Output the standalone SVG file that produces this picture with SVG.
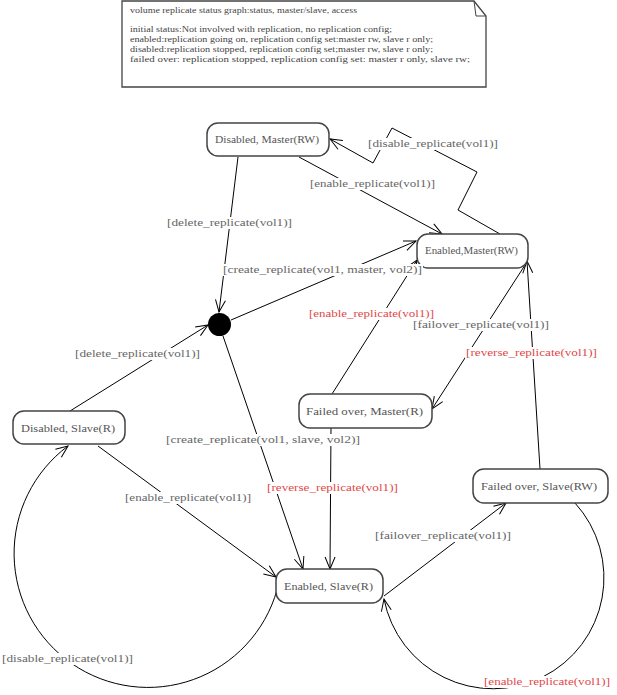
<svg xmlns="http://www.w3.org/2000/svg" width="617" height="695" viewBox="0 0 617 695">
<style>
.node rect{fill:#fff;stroke:#444;stroke-width:1.5}
.node text{font-family:"Liberation Serif",serif;font-size:10.5px;fill:#555;lengthAdjust:spacingAndGlyphs}
.edge{fill:none;stroke:#000;stroke-width:1;marker-end:url(#arr)}
.lbl rect{fill:#fff}
.lbl text{font-family:"Liberation Serif",serif;font-size:10.5px;fill:#666}
.lbl .red{fill:#e04848}
.note text{font-family:"Liberation Serif",serif;font-size:8px;fill:#444}
</style>
<defs>
<marker id="arr" markerWidth="14" markerHeight="12" refX="13" refY="6" orient="auto" markerUnits="userSpaceOnUse" overflow="visible">
<path d="M1,1 L13,6 L1,11" fill="none" stroke="#000" stroke-width="1"/>
</marker>
</defs>
<rect width="617" height="695" fill="#fff"/>

<g id="note" class="note">
<path d="M122,1 H474 L486,16 V87 H122 Z" fill="#fff" stroke="#444" stroke-width="1.3"/>
<path d="M474,1 L476,16 H486" fill="none" stroke="#444" stroke-width="1"/>
<text x="130" y="13" textLength="227" lengthAdjust="spacingAndGlyphs">volume replicate status graph:status, master/slave, access</text>
<text x="130" y="32" textLength="262" lengthAdjust="spacingAndGlyphs">initial status:Not involved with replication, no replication config;</text>
<text x="130" y="42" textLength="303" lengthAdjust="spacingAndGlyphs">enabled:replication going on, replication config set:master rw, slave r only;</text>
<text x="130" y="52" textLength="303" lengthAdjust="spacingAndGlyphs">disabled:replication stopped, replication config set;master rw, slave r only;</text>
<text x="130" y="62" textLength="340" lengthAdjust="spacingAndGlyphs">failed over: replication stopped, replication config set: master r only, slave rw;</text>
</g>

<g id="connectors">
<path class="edge" d="M238,157 L219,312"/>
<path class="edge" d="M231,320 L416,241"/>
<path class="edge" d="M299,157 L442,234"/>
<path class="edge" d="M500,234 L458,210 L477,172 L392,128 L373,163 L330,139"/>
<path class="edge" d="M70,411 L208,325"/>
<path class="edge" d="M223,336 L303,569"/>
<path class="edge" d="M98,446 L276,577"/>
<path class="edge" d="M277,590 A134,134 0 1 1 68,446"/>
<path class="edge" d="M331,428 L330,569"/>
<path class="edge" d="M332,394 L417,260"/>
<path class="edge" d="M527,262 L432,409"/>
<path class="edge" d="M384,596 L506,503"/>
<path class="edge" d="M575,503 A111,111 0 1 1 384,599"/>
<path class="edge" d="M540,469 L527,261"/>
</g>

<g id="initial"><circle cx="219.5" cy="324.5" r="11.5" fill="#000"/></g>

<g id="disabled-master" class="node">
<rect x="207" y="123" width="122" height="33" rx="11"/>
<text x="215" y="143" textLength="104" lengthAdjust="spacingAndGlyphs">Disabled, Master(RW)</text>
</g>
<g id="enabled-master" class="node">
<rect x="417" y="234" width="111" height="34" rx="11"/>
<text x="425" y="254" textLength="93" lengthAdjust="spacingAndGlyphs">Enabled,Master(RW)</text>
</g>
<g id="failed-over-master" class="node">
<rect x="299" y="394" width="133" height="34" rx="11"/>
<text x="306" y="415" textLength="117" lengthAdjust="spacingAndGlyphs">Failed over, Master(R)</text>
</g>
<g id="disabled-slave" class="node">
<rect x="13" y="411" width="112" height="33" rx="11"/>
<text x="21" y="432" textLength="94" lengthAdjust="spacingAndGlyphs">Disabled, Slave(R)</text>
</g>
<g id="failed-over-slave" class="node">
<rect x="473" y="469" width="135" height="34" rx="11"/>
<text x="481" y="490" textLength="116" lengthAdjust="spacingAndGlyphs">Failed over, Slave(RW)</text>
</g>
<g id="enabled-slave" class="node">
<rect x="276" y="569" width="107" height="34" rx="11"/>
<text x="284" y="590" textLength="89" lengthAdjust="spacingAndGlyphs">Enabled, Slave(R)</text>
</g>

<g id="edge-labels" class="lbl">
<rect x="166" y="217" width="127" height="12"/><text x="167" y="226" textLength="125" lengthAdjust="spacingAndGlyphs">[delete_replicate(vol1)]</text>
<rect x="222" y="264" width="201" height="12"/><text x="223" y="273" textLength="199" lengthAdjust="spacingAndGlyphs">[create_replicate(vol1, master, vol2)]</text>
<rect x="309" y="178" width="127" height="12"/><text x="310" y="187" textLength="125" lengthAdjust="spacingAndGlyphs">[enable_replicate(vol1)]</text>
<rect x="367" y="138" width="132" height="12"/><text x="368" y="147" textLength="130" lengthAdjust="spacingAndGlyphs">[disable_replicate(vol1)]</text>
<rect x="74" y="348" width="127" height="12"/><text x="75" y="357" textLength="125" lengthAdjust="spacingAndGlyphs">[delete_replicate(vol1)]</text>
<rect x="165" y="434" width="196" height="12"/><text x="166" y="443" textLength="194" lengthAdjust="spacingAndGlyphs">[create_replicate(vol1, slave, vol2)]</text>
<rect x="124" y="492" width="128" height="12"/><text x="125" y="501" textLength="126" lengthAdjust="spacingAndGlyphs">[enable_replicate(vol1)]</text>
<rect x="1" y="653" width="133" height="12"/><text x="2" y="662" textLength="131" lengthAdjust="spacingAndGlyphs">[disable_replicate(vol1)]</text>
<rect x="266" y="482" width="133" height="12"/><text class="red" x="267" y="491" textLength="131" lengthAdjust="spacingAndGlyphs">[reverse_replicate(vol1)]</text>
<rect x="308" y="308" width="127" height="12"/><text class="red" x="309" y="317" textLength="125" lengthAdjust="spacingAndGlyphs">[enable_replicate(vol1)]</text>
<rect x="412" y="319" width="138" height="12"/><text x="413" y="328" textLength="136" lengthAdjust="spacingAndGlyphs">[failover_replicate(vol1)]</text>
<rect x="465" y="347" width="133" height="12"/><text class="red" x="466" y="356" textLength="131" lengthAdjust="spacingAndGlyphs">[reverse_replicate(vol1)]</text>
<rect x="374" y="530" width="138" height="12"/><text x="375" y="539" textLength="136" lengthAdjust="spacingAndGlyphs">[failover_replicate(vol1)]</text>
<rect x="483" y="676" width="128" height="12"/><text class="red" x="484" y="685" textLength="126" lengthAdjust="spacingAndGlyphs">[enable_replicate(vol1)]</text>
</g>
</svg>
